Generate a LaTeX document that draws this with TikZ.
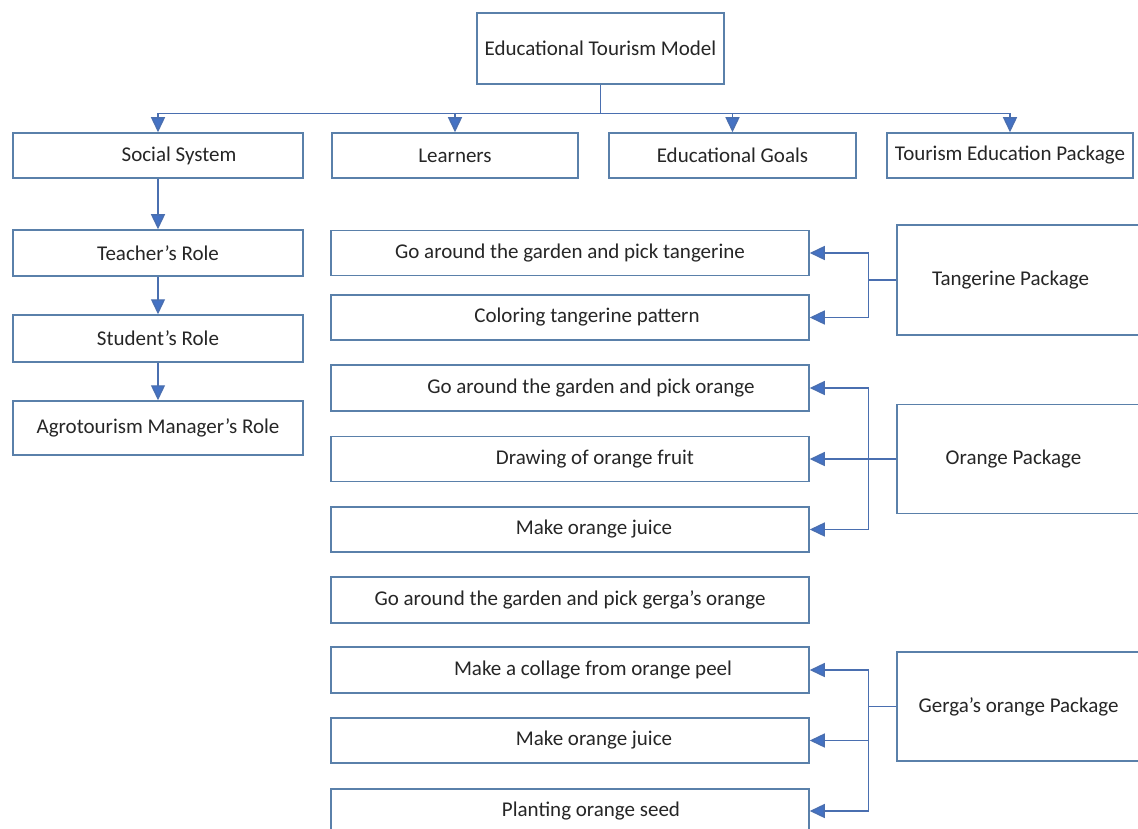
\documentclass[tikz,border=0pt]{standalone}
\usepackage{fontspec}
\setmainfont{Carlito}
\usetikzlibrary{arrows.meta}
\definecolor{boxc}{HTML}{5A80AA}
\definecolor{linec}{HTML}{4A6FB0}
\definecolor{arrc}{HTML}{4472C4}
\definecolor{txtc}{HTML}{262626}
\begin{document}
\begin{tikzpicture}[x=1pt,y=-1pt,
  box/.style={draw=boxc, line width=1.5pt, fill=white, text=txtc, inner sep=0pt,
    font=\fontsize{21}{25}\selectfont},
  tshift/.style={execute at begin node={\hspace*{#1}}},
  conn/.style={draw=linec, line width=1.4pt},
  arr/.style={conn, -{Triangle[length=15pt,width=14pt,fill=arrc]}}]
\useasboundingbox (0,0) rectangle (1138,829);
\clip (0,0) rectangle (1138,829);
\fill[white] (0,0) rectangle (1138,829);
% top
\node[box, minimum width=247pt, minimum height=71pt] (etm) at (600.5,48.5) {Educational Tourism Model};
% second row
\node[box, minimum width=290pt, minimum height=45pt, tshift=42pt] (ss) at (158,155.5) {Social System};
\node[box, minimum width=246pt, minimum height=45pt] (lr) at (455,155.5) {Learners};
\node[box, minimum width=247pt, minimum height=45pt] (eg) at (732.5,155.5) {Educational Goals};
\node[box, minimum width=246pt, minimum height=45pt] (tep) at (1010,155.5) {Tourism Education Package};
% left column
\node[box, minimum width=290pt, minimum height=46pt] (tr) at (158,253) {Teacher’s Role};
\node[box, minimum width=290pt, minimum height=47pt] (sr) at (158,338.5) {Student’s Role};
\node[box, minimum width=290pt, minimum height=54pt] (amr) at (158,428) {Agrotourism Manager’s Role};
% middle column
\node[box, minimum width=478pt, minimum height=45pt] (m1) at (570,253) {Go around the garden and pick tangerine};
\node[box, minimum width=478pt, minimum height=45pt, tshift=34pt] (m2) at (570,317.5) {Coloring tangerine pattern};
\node[box, minimum width=478pt, minimum height=46pt, tshift=42pt] (m3) at (570,388) {Go around the garden and pick orange};
\node[box, minimum width=478pt, minimum height=45pt, tshift=50pt] (m4) at (570,459) {Drawing of orange fruit};
\node[box, minimum width=478pt, minimum height=45pt, tshift=48pt] (m5) at (570,529.5) {Make orange juice};
\node[box, minimum width=478pt, minimum height=46pt] (m6) at (570,600) {Go around the garden and pick gerga’s orange};
\node[box, minimum width=478pt, minimum height=46pt, tshift=46pt] (m7) at (570,670) {Make a collage from orange peel};
\node[box, minimum width=478pt, minimum height=45pt, tshift=48pt] (m8) at (570,740.5) {Make orange juice};
\node[box, minimum width=478pt, minimum height=44pt, tshift=42pt] (m9) at (570,811) {Planting orange seed};
% packages
\node[box, minimum width=243pt, minimum height=110pt, tshift=-16pt] (tp) at (1018.5,280) {Tangerine Package};
\node[box, minimum width=243pt, minimum height=109pt, tshift=-10pt] (op) at (1018.5,459) {Orange Package};
\node[box, minimum width=243pt, minimum height=109pt] (gp) at (1018.5,706.5) {Gerga’s orange Package};
% connectors top
\draw[conn] (etm.south) -- ++(0,29) coordinate (hub);
\draw[arr] (hub) -| (ss.north);
\draw[arr] (hub) -| (lr.north);
\draw[arr] (hub) -| (eg.north);
\draw[arr] (hub) -| (tep.north);
% left column
\draw[arr] (ss.south) -- (tr.north);
\draw[arr] (tr.south) -- (sr.north);
\draw[arr] (sr.south) -- (amr.north);
% packages
\draw[arr] (tp.west) -- ++(-28,0) |- (m1.east);
\draw[arr] (tp.west) -- ++(-28,0) |- (m2.east);
\draw[arr] (op.west) -- ++(-28,0) |- (m3.east);
\draw[arr] (op.west) -- ++(-28,0) |- (m4.east);
\draw[arr] (op.west) -- ++(-28,0) |- (m5.east);
\draw[arr] (gp.west) -- ++(-28,0) |- (m7.east);
\draw[arr] (gp.west) -- ++(-28,0) |- (m8.east);
\draw[arr] (gp.west) -- ++(-28,0) |- (m9.east);
\end{tikzpicture}
\end{document}
